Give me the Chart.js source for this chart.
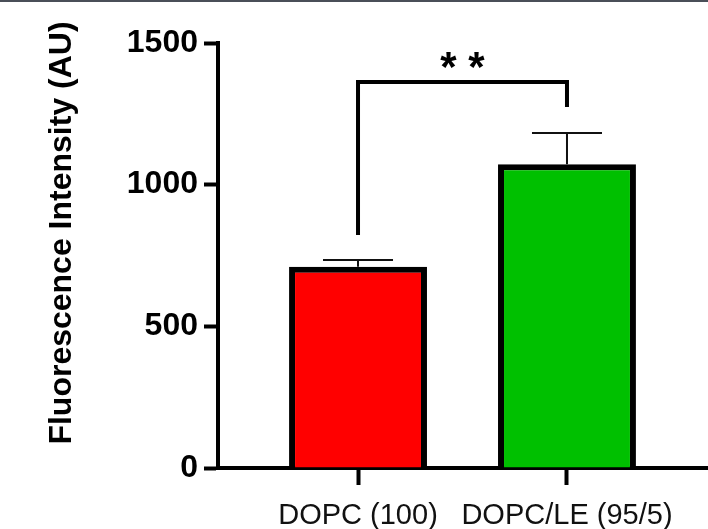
<!DOCTYPE html>
<html>
<head>
<meta charset="utf-8">
<script src="https://cdn.jsdelivr.net/npm/chart.js@4"></script>
<style>
  html, body { margin: 0; padding: 0; background: #fff; }
  canvas { display: block; }
</style>
</head>
<body>
<canvas id="myChart" width="708" height="529"></canvas>
<script>
// data
const categories = ['DOPC (100)', 'DOPC/LE (95/5)'];
const means = [710, 1072];
const errors = [24, 110];          // upper error bar (SEM)
const barColors = ['#ff0000', '#00c000'];
const yTicks = [0, 500, 1000, 1500];
const yTitle = 'Fluorescence Intensity (AU)';
// significance bracket: between bars 0 and 1, top value, leg ends
const sigPair = [0, 1];
const sigTop = 1362;
const sigLegEnds = [822, 1274];
const sigLabel = '* *';

const FONT = '"Liberation Sans", Arial, sans-serif';

const extras = {
  id: 'extras',
  beforeDraw(chart) {
    const c = chart.ctx;
    c.save();
    c.fillStyle = '#4a4f58';
    c.fillRect(0, 0, chart.width, 2);
    c.restore();
  },
  afterDatasetsDraw(chart) {
    const c = chart.ctx;
    const x = chart.scales.x, y = chart.scales.y;
    c.save();
    // error bars
    c.strokeStyle = '#111';
    c.lineWidth = 2;
    means.forEach((m, i) => {
      const px = x.getPixelForValue(i);
      const top = y.getPixelForValue(m + errors[i]);
      c.beginPath();
      c.moveTo(px, y.getPixelForValue(m));
      c.lineTo(px, top);
      c.moveTo(px - 35, top);
      c.lineTo(px + 35, top);
      c.stroke();
    });
    // significance bracket
    const x1 = x.getPixelForValue(sigPair[0]);
    const x2 = x.getPixelForValue(sigPair[1]);
    const yt = y.getPixelForValue(sigTop);
    c.strokeStyle = '#000';
    c.lineWidth = 4;
    c.beginPath();
    c.moveTo(x1, y.getPixelForValue(sigLegEnds[0]));
    c.lineTo(x1, yt);
    c.lineTo(x2, yt);
    c.lineTo(x2, y.getPixelForValue(sigLegEnds[1]));
    c.stroke();
    c.fillStyle = '#000';
    c.font = 'bold 42px ' + FONT;
    c.textAlign = 'center';
    c.textBaseline = 'alphabetic';
    c.fillText(sigLabel, (x1 + x2) / 2, yt - 1);
    // y axis title
    c.translate(62, 233);
    c.rotate(-Math.PI / 2);
    c.font = 'bold 32px ' + FONT;
    c.textBaseline = 'middle';
    c.fillText(yTitle, 0, 0);
    c.restore();
  }
};

const ctx = document.getElementById('myChart');
const myChart = new Chart(ctx, {
  type: 'bar',
  data: {
    datasets: [{
      data: categories.map((c, i) => ({ x: i, y: means[i] })),
      backgroundColor: barColors,
      borderColor: '#000',
      borderWidth: 6,
      borderSkipped: 'start',
      barPercentage: 0.66,
      categoryPercentage: 1,
    }]
  },
  options: {
    responsive: false,
    animation: false,
    devicePixelRatio: 1,
    layout: { padding: { left: 0, right: 1, top: 43, bottom: 0 } },
    plugins: { legend: { display: false }, tooltip: { enabled: false } },
    scales: {
      x: {
        type: 'linear',
        offset: false,
        min: -0.67,
        max: 1.67,
        afterFit: (s) => { s.height = 61; },
        afterBuildTicks: (s) => { s.ticks = categories.map((c, i) => ({ value: i })); },
        grid: { offset: false, drawOnChartArea: false, drawTicks: true, tickLength: 17, tickWidth: 4, tickColor: '#000' },
        border: { display: true, color: '#000', width: 4 },
        ticks: {
          autoSkip: false,
          maxRotation: 0,
          padding: 14,
          color: '#111',
          font: { family: FONT, size: 29 },
          callback: (v) => categories[v]
        }
      },
      y: {
        min: 0,
        max: 1500,
        afterFit: (s) => { s.width = 218; },
        afterBuildTicks: (s) => { s.ticks = yTicks.map(v => ({ value: v })); },
        grid: { drawOnChartArea: false, drawTicks: true, tickLength: 14, tickWidth: 4, tickColor: '#000' },
        border: { display: true, color: '#000', width: 4 },
        ticks: {
          padding: 6,
          color: '#000',
          font: { family: FONT, size: 32, weight: 'bold' },
          callback: (v) => String(v)
        }
      }
    }
  },
  plugins: [extras]
});
</script>
</body>
</html>
